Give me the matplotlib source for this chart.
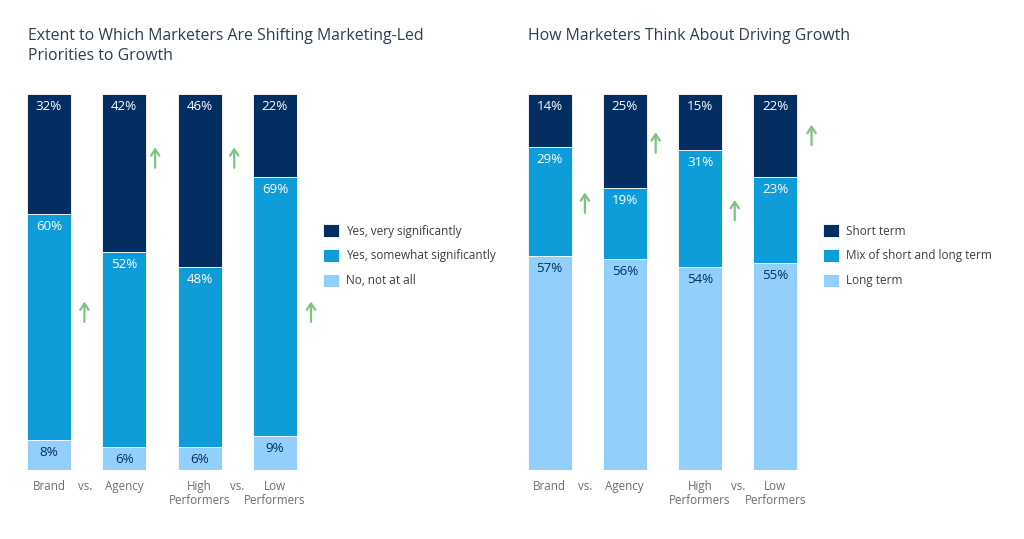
import numpy as np
import matplotlib.pyplot as plt

# ---- data ----
categories = ["Brand", "Agency", "High\nPerformers", "Low\nPerformers"]

left_title = "Extent to Which Marketers Are Shifting Marketing-Led\nPriorities to Growth"
left_labels = ["Yes, very significantly", "Yes, somewhat significantly", "No, not at all"]
left_very = [32, 42, 46, 22]
left_somewhat = [60, 52, 48, 69]
left_not = [8, 6, 6, 9]
left_arrow_y = [42, 83, 83, 42]      # height (in %) of the green "up" arrows

right_title = "How Marketers Think About Driving Growth"
right_labels = ["Short term", "Mix of short and long term", "Long term"]
right_short = [14, 25, 15, 22]
right_mix = [29, 19, 31, 23]
right_long = [57, 56, 54, 55]
right_arrow_y = [71, 87, 69, 89]

arrow_x_offset = [0.47, 0.41, 0.46, 0.48]

# ---- style ----
DARK = "#032e61"
MID = "#0e9dd9"
LIGHT = "#93cffb"
GREEN = "#7cc481"
TITLE_C = "#2c3e50"
TEXT_C = "#3e3e3c"
TICK_C = "#706e6b"

plt.rcParams['font.family'] = ['Open Sans', 'DejaVu Sans']

W, H = 1024, 539
fig = plt.figure(figsize=(W / 100, H / 100), dpi=100)

spacing = 75.3          # px between bar centres
bar_w = 44 / spacing


def make_panel(first_center_px, title, labels, top, mid, bottom, arrow_y, legend_x_px):
    ax = fig.add_axes([(first_center_px - 0.3 * spacing) / W, 69 / H,
                       3.6 * spacing / W, 376 / H])
    x = np.arange(len(categories))
    b1 = ax.bar(x, bottom, width=bar_w, color=LIGHT, edgecolor="white", linewidth=0.6)
    b2 = ax.bar(x, mid, width=bar_w, bottom=bottom, color=MID, edgecolor="white", linewidth=0.6)
    b3 = ax.bar(x, top, width=bar_w, bottom=np.add(bottom, mid), color=DARK,
                edgecolor="white", linewidth=0.6)

    for bars, vals, starts, col in [
        (b1, bottom, np.zeros(4), DARK),
        (b2, mid, np.array(bottom), "white"),
        (b3, top, np.add(bottom, mid), "white"),
    ]:
        for xi, v, s in zip(x, vals, starts):
            ax.annotate(f"{v}%", (xi, s + v), xytext=(0, -9), textcoords="offset points",
                        ha="center", va="center", fontsize=9.6, color=col)

    for xi, ay, off in zip(x, arrow_y, arrow_x_offset):
        ax.annotate("", xy=(xi + off, ay + 2.8), xytext=(xi + off, ay - 2.6),
                    arrowprops=dict(arrowstyle="->,head_length=0.45,head_width=0.3",
                                    color=GREEN, lw=1.6, shrinkA=0, shrinkB=0),
                    annotation_clip=False)

    ax.set_xlim(-0.3, 3.3)
    ax.set_ylim(0, 100)
    ax.set_xticks(x)
    ax.set_xticklabels(categories, fontsize=8.4, color=TICK_C, linespacing=1.05,
                       va="top")
    ax.tick_params(axis="x", length=0, pad=7.5)
    ax.set_yticks([])
    for s in ax.spines.values():
        s.set_visible(False)
    for vx in [0.48, 2.5]:
        ax.text(vx, -2.7, "vs.", ha="center", va="top", fontsize=8.3, color=TICK_C)

    fig.text((first_center_px - 21) / W, 1 - 28 / H, title, ha="left", va="top",
             fontsize=11.45, color=TITLE_C, linespacing=1.3)

    fig.legend([b3, b2, b1], labels, loc="upper left",
               bbox_to_anchor=(legend_x_px / W, 1 - 224 / H), frameon=False,
               fontsize=8.5, handlelength=1.35, handleheight=1.35, handletextpad=0.6,
               labelspacing=0.95, borderpad=0, borderaxespad=0, labelcolor=TEXT_C)
    return ax


make_panel(49, left_title, left_labels, left_very, left_somewhat, left_not,
           left_arrow_y, 323)
make_panel(549.5, right_title, right_labels, right_short, right_mix, right_long,
           right_arrow_y, 823)

fig.savefig("out.png", dpi=100, facecolor="white")
